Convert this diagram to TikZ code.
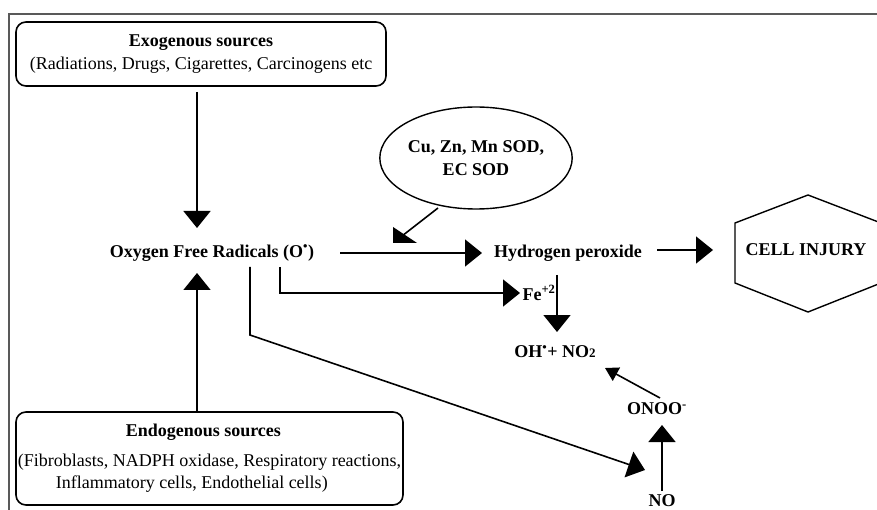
\documentclass[tikz,border=0pt]{standalone}
\usepackage{fontspec}
\setmainfont{Liberation Serif}
\usetikzlibrary{arrows.meta,shapes.geometric,calc}
\begin{document}
\begin{tikzpicture}[x=1pt,y=-1pt,
  font=\fontsize{18}{23}\selectfont,
  conn/.style={line width=1.6pt,line join=miter},
  arr/.style={conn,-{Triangle[length=17pt,width=27pt]}},
  srcbox/.style={draw,line width=1.6pt,rounded corners=10pt,inner sep=0pt},
  lbl/.style={inner sep=0pt,font=\fontsize{18}{23}\selectfont\bfseries}
]
\useasboundingbox (0,0) rectangle (877,510);
% frame
\draw[line width=1.3pt,black!65] (9,510) -- (9,14) -- (877,14);

% nodes
\node[srcbox,minimum width=370pt,minimum height=64pt,align=center] (exo) at (201,54)
  {\textbf{Exogenous sources}\\(Radiations, Drugs, Cigarettes, Carcinogens etc};
\node[srcbox,minimum width=387pt,minimum height=93pt,align=left] (endo) at (209.5,458.5)
  {\hspace*{108pt}\textbf{Endogenous sources}\\[7pt]
   (Fibroblasts, NADPH oxidase, Respiratory reactions,\\[-1pt]
   \hspace*{38pt}Inflammatory cells, Endothelial cells)};
\node[lbl] (ofr) at (212,253) {Oxygen Free Radicals (O\textsuperscript{\textbullet})};
\node[lbl] (hp) at (568,253) {Hydrogen peroxide};
\node[draw,ellipse,line width=1.4pt,minimum width=188pt,minimum height=102pt,inner sep=0pt,align=center,font=\fontsize{18}{23}\selectfont\bfseries] (sod) at (476,158)
  {Cu, Zn, Mn SOD,\\EC SOD};
\node[lbl] (cell) at (806,250) {CELL INJURY};
\draw[line width=1.4pt] (735,223) -- (808,195) -- (881,223) -- (881,283) -- (808,312) -- (735,283) -- cycle;
\node[lbl] (fe) at (539,293) {Fe\textsuperscript{+2}};
\node[lbl] (oh) at (555,352) {OH\textsuperscript{\textbullet}+ NO{\fontsize{13}{13}\selectfont 2}};
\node[lbl] (onoo) at (657,409) {ONOO\textsuperscript{-}};
\node[lbl] (no) at (662,501) {NO};

% coordinates
\coordinate (exoOut) at (197,92);
\coordinate (ofrTop) at (197,228);
\coordinate (endoOut) at (197,412);
\coordinate (ofrBot) at (197,273);
\coordinate (ofrR) at (340,253);
\coordinate (hpL) at (482,253);
\coordinate (hpR) at (657,250);
\coordinate (cellL) at (713,250);
\coordinate (sodOut) at (438,208);
\coordinate (sodTip) at (402,236);
\coordinate (feA) at (280,267);
\coordinate (feB) at (280,293);
\coordinate (feL) at (520,293);
\coordinate (hpBot) at (557,275);
\coordinate (ohTop) at (557,332);
\coordinate (diagA) at (250,267);
\coordinate (diagB) at (250,335);
\coordinate (noL) at (645,470);
\coordinate (onooOut) at (660,398);
\coordinate (ohR) at (605,368);
\coordinate (noTop) at (662,491);
\coordinate (onooBot) at (662,425);

% connectors
\draw[arr] (exoOut) -- (ofrTop);
\draw[arr] (endoOut) -- (ofrBot);
\draw[arr] (ofrR) -- (hpL);
\draw[arr] (hpR) -- (cellL);
\draw[conn] (sodOut) -- (sodTip);
\fill (393,227) -- (393,243) -- (417,243) -- cycle;
\draw[arr] (feA) -- (feB) -- (feL);
\draw[arr] (hpBot) -- (ohTop);
\draw[arr] (diagA) -- (diagB) -- (noL);
\draw[conn,-{Triangle[length=13pt,width=15pt]}] (onooOut) -- (ohR);
\draw[arr] (noTop) -- (onooBot);
\end{tikzpicture}
\end{document}
